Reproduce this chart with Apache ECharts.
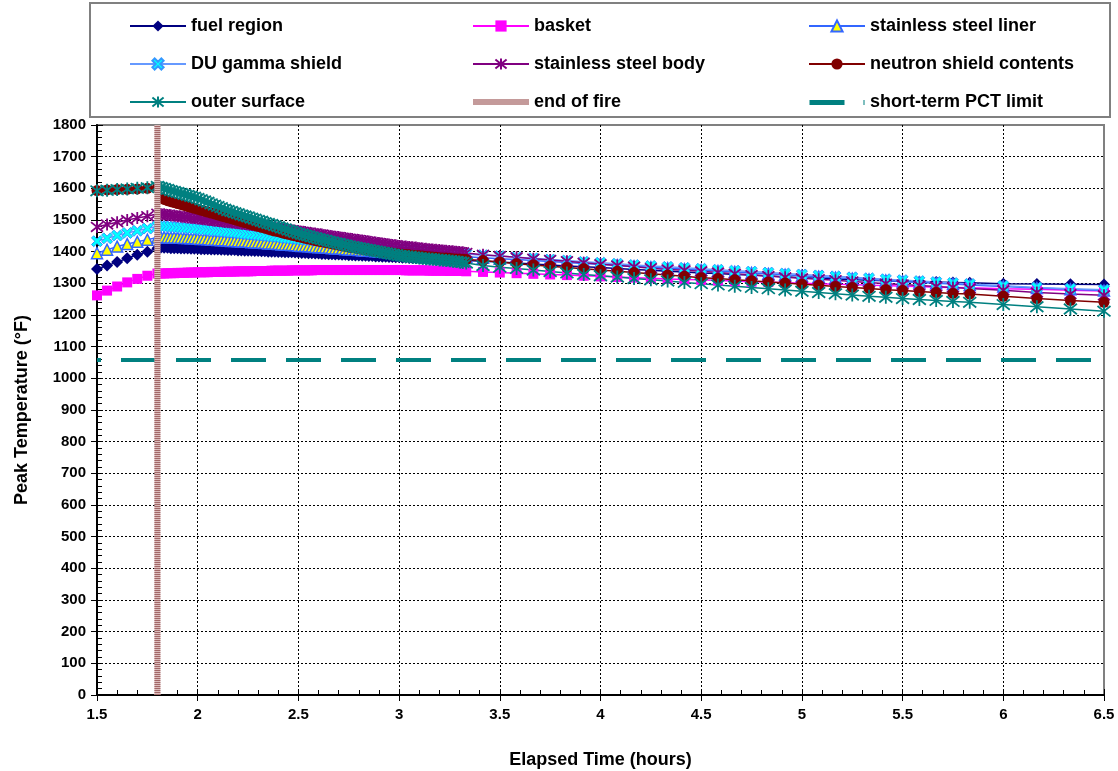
<!DOCTYPE html>
<html><head><meta charset="utf-8">
<script src="https://cdn.jsdelivr.net/npm/echarts@6/dist/echarts.min.js"></script>
<style>html,body{margin:0;padding:0;background:#fff}#c{width:1118px;height:771px}</style>
</head><body><div id="c"></div>
<script>
// elapsed time in minutes
const minutes = [90,93,96,99,102,105,108,
109,110,111,112,113,114,115,116,117,118,119,120,
121,122,123,124,125,126,127,128,129,130,
131,132,133,134,135,136,137,138,139,140,
141,142,143,144,145,146,147,148,149,150,
151,152,153,154,155,156,157,158,159,160,
161,162,163,164,165,166,167,168,169,170,
171,172,173,174,175,176,177,178,179,180,
181,182,183,184,185,186,187,188,189,190,
191,192,193,194,195,196,197,198,199,200,
205,210,215,220,225,230,235,240,245,250,255,260,265,270,275,280,285,290,295,300,305,310,315,320,325,330,335,340,345,350,
360,370,380,390];

const fuelRegion = [1345,1356,1367,1379,1390,1400,1411,
1412,1412,1412,1411,1411,1411,1410,1410,1410,1409,1409,1409,
1408,1408,1408,1407,1407,1407,1406,1406,1405,1405,
1405,1404,1404,1403,1403,1403,1402,1402,1401,1401,
1400,1400,1400,1399,1399,1398,1398,1398,1397,1397,
1396,1396,1395,1395,1394,1394,1393,1393,1392,1392,
1391,1391,1390,1390,1389,1389,1388,1388,1387,1387,
1386,1386,1385,1385,1384,1384,1383,1383,1382,1382,
1381,1381,1380,1380,1379,1379,1378,1378,1377,1377,
1376,1376,1375,1375,1374,1374,1373,1373,1372,1372,
1370,1367,1364,1361,1358,1355,1352,1350,1347,1344,1341,1338,1336,1333,1331,1328,1326,1323,1321,1318,1316,1314,1312,1310,1308,1306,1305,1304,1303,1302,
1299,1298,1297,1296];

const basket = [1262,1277,1290,1303,1314,1324,1331,
1331,1331,1332,1332,1332,1333,1333,1333,1334,1334,1334,1335,
1335,1335,1335,1336,1336,1336,1336,1337,1337,1337,
1337,1338,1338,1338,1338,1338,1339,1339,1339,1339,
1339,1340,1340,1340,1340,1340,1340,1341,1341,1341,
1341,1341,1341,1341,1342,1342,1342,1342,1342,1342,
1342,1342,1342,1342,1342,1342,1342,1342,1342,1342,
1342,1342,1342,1342,1342,1342,1342,1342,1342,1342,
1342,1341,1341,1341,1341,1341,1341,1341,1340,1340,
1340,1340,1340,1340,1339,1339,1339,1339,1339,1338,
1336,1334,1332,1330,1328,1326,1324,1322,1320,1318,1316,1314,1312,1311,1309,1307,1305,1304,1302,1300,1299,1297,1296,1294,1293,1291,1290,1288,1287,1286,
1283,1281,1278,1276];

const steelLiner = [1395,1406,1416,1424,1431,1438,1445,
1446,1446,1445,1445,1445,1444,1444,1443,1443,1442,1442,1441,
1440,1440,1439,1438,1438,1437,1436,1436,1435,1434,
1434,1433,1432,1432,1431,1430,1429,1429,1428,1427,
1426,1426,1425,1424,1423,1422,1422,1421,1420,1419,
1418,1418,1417,1416,1415,1414,1414,1413,1412,1411,
1410,1410,1409,1408,1407,1406,1406,1405,1404,1403,
1403,1402,1401,1400,1400,1399,1398,1397,1397,1396,
1395,1395,1394,1393,1393,1392,1391,1391,1390,1390,
1389,1388,1388,1387,1387,1386,1385,1385,1384,1384,
1381,1378,1375,1372,1369,1366,1363,1360,1357,1354,1351,1348,1345,1342,1339,1336,1333,1330,1327,1324,1321,1318,1315,1312,1309,1306,1303,1300,1298,1295,
1290,1285,1281,1277];

const duGamma = [1433,1442,1451,1459,1466,1473,1480,
1481,1480,1479,1479,1478,1477,1476,1475,1475,1474,1473,1472,
1471,1470,1469,1468,1467,1466,1465,1464,1463,1462,
1461,1460,1459,1457,1456,1455,1454,1453,1452,1451,
1450,1449,1448,1447,1446,1444,1443,1442,1441,1440,
1439,1438,1437,1436,1435,1434,1433,1432,1431,1430,
1429,1428,1427,1426,1425,1424,1423,1422,1421,1420,
1419,1418,1417,1416,1415,1414,1413,1412,1411,1410,
1409,1408,1407,1406,1405,1404,1403,1403,1402,1401,
1400,1399,1398,1398,1397,1396,1395,1394,1394,1393,
1389,1386,1382,1379,1375,1372,1368,1365,1362,1358,1355,1352,1349,1346,1343,1340,1337,1334,1331,1328,1325,1322,1319,1316,1313,1310,1307,1304,1301,1298,
1292,1287,1283,1280];

const steelBody = [1478,1486,1493,1500,1506,1512,1520,
1519,1518,1516,1515,1514,1512,1511,1510,1508,1507,1506,1505,
1504,1502,1501,1500,1498,1497,1496,1494,1493,1492,
1491,1490,1488,1487,1486,1484,1483,1482,1480,1479,
1478,1476,1475,1473,1472,1471,1469,1468,1466,1465,
1463,1462,1460,1458,1457,1455,1454,1452,1450,1449,
1447,1446,1444,1443,1441,1440,1438,1437,1435,1434,
1432,1430,1429,1427,1426,1424,1423,1421,1420,1418,
1417,1416,1415,1414,1413,1411,1410,1409,1408,1407,
1406,1405,1404,1403,1402,1401,1400,1399,1398,1396,
1390,1386,1382,1378,1374,1370,1365,1360,1356,1352,1348,1344,1341,1338,1334,1330,1326,1323,1319,1316,1313,1310,1306,1303,1299,1296,1293,1290,1287,1284,
1278,1271,1266,1262];

const neutronShield = [1593,1595,1596,1597,1598,1600,1602,
1570,1565,1561,1558,1555,1552,1549,1546,1543,1540,1537,1534,
1531,1528,1525,1522,1519,1516,1513,1510,1507,1504,
1501,1498,1495,1492,1489,1486,1483,1480,1477,1474,
1471,1468,1465,1463,1460,1457,1455,1452,1450,1447,
1445,1442,1440,1438,1435,1433,1431,1429,1427,1425,
1423,1421,1419,1417,1415,1413,1412,1410,1408,1407,
1405,1404,1402,1401,1399,1398,1397,1395,1394,1393,
1392,1391,1390,1389,1388,1387,1386,1385,1384,1383,
1382,1381,1380,1380,1379,1378,1377,1377,1376,1375,
1372,1367,1362,1358,1354,1350,1346,1342,1338,1334,1330,1326,1322,1318,1315,1311,1308,1304,1301,1297,1294,1290,1287,1284,1280,1277,1274,1271,1268,1266,
1259,1252,1246,1240];

const outerSurface = [1592,1594,1596,1598,1600,1602,1606,
1603,1600,1597,1593,1590,1587,1584,1581,1578,1575,1572,1568,
1564,1560,1556,1551,1547,1543,1539,1534,1530,1527,
1523,1520,1516,1513,1510,1506,1503,1499,1496,1492,
1489,1486,1482,1479,1475,1472,1468,1465,1461,1458,
1455,1452,1450,1447,1444,1441,1439,1436,1433,1431,
1428,1426,1423,1421,1418,1416,1414,1412,1410,1408,
1406,1404,1402,1400,1398,1396,1394,1392,1390,1388,
1387,1385,1384,1383,1382,1380,1379,1378,1377,1376,
1375,1374,1373,1372,1371,1370,1369,1367,1366,1364,
1356,1351,1347,1342,1337,1333,1328,1324,1320,1315,1311,1307,1303,1299,1295,1291,1287,1283,1279,1275,1271,1267,1263,1259,1256,1252,1249,1246,1243,1240,
1233,1226,1219,1212];

const endOfFireHours = 1.8;
const pctLimitF = 1058;
const xRange = [1.5, 6.5];
const yRange = [0, 1800];

const FONT = '"Liberation Sans", Arial, Helvetica, sans-serif';
const ASTER = 'path://M5,0L5,10M1,1L9,9M1,9L9,1';
const XSQ = 'path://M0,2L2,0L5,3L8,0L10,2L7,5L10,8L8,10L5,7L2,10L0,8L3,5Z';

function pts(arr){ return minutes.map((m,i)=>[m/60, arr[i]]); }
function mk(name, arr, line, symbol, size, fill, border, bw){
  return {
    type:'line', name, data:pts(arr), symbol, symbolSize:size, showAllSymbol:true,
    lineStyle:{color:line, width:1.5},
    itemStyle:{color:fill, borderColor:border||fill, borderWidth:bw||0},
    emphasis:{disabled:true}, animation:false, z:2
  };
}

const series = [
  mk('fuel region', fuelRegion, '#000080', 'diamond', 12, '#000080'),
  mk('basket', basket, '#ff00ff', 'rect', 10, '#ff00ff'),
  mk('stainless steel liner', steelLiner, '#3366ff', 'triangle', 11, '#ffff00', '#3366ff', 1.5),
  mk('DU gamma shield', duGamma, '#6699ff', XSQ, 11, '#00ffff', '#3399ff', 1),
  mk('stainless steel body', steelBody, '#800080', ASTER, 12, '#800080', '#800080', 1.8),
  mk('neutron shield contents', neutronShield, '#800000', 'circle', 11, '#800000'),
  mk('outer surface', outerSurface, '#008080', ASTER, 13, '#008080', '#008080', 1.8),
  {type:'line', name:'end of fire', data:[[endOfFireHours, yRange[0]],[endOfFireHours, yRange[1]]], symbol:'none',
   lineStyle:{color:'#dcbcbc', width:6}, itemStyle:{color:'#c49a9a'}, emphasis:{disabled:true}, animation:false, z:3},
  {type:'line', name:'fireTexture', data:[[endOfFireHours, yRange[0]],[endOfFireHours, yRange[1]]], symbol:'none',
   lineStyle:{color:'#a26868', width:6, type:[1,1]}, emphasis:{disabled:true}, animation:false, z:3},
  {type:'line', name:'short-term PCT limit', data:[[xRange[0], pctLimitF],[xRange[1], pctLimitF]], symbol:'none',
   lineStyle:{color:'#008080', width:4, type:[35,20], dashOffset:31}, itemStyle:{color:'#008080'}, emphasis:{disabled:true}, animation:false, z:2}
];

const legendCommon = {
  orient:'vertical', top:12, itemWidth:56, itemHeight:14, itemGap:20, selectedMode:false,
  textStyle:{fontFamily:FONT, fontWeight:'bold', fontSize:18, color:'#000'}
};
const fireIcon = 'path://M0,0L0.1,0L0.1,0.1Z M0,4L56,4L56,10L0,10Z M0,14L0.1,14L0.1,13.9Z';
const pctIcon = 'path://M0,0L0.1,0L0.1,0.1Z M0,5L35,5L35,10L0,10Z M54,5L55,5L55,10L54,10Z M0,14L0.1,14L0.1,13.9Z';

const axisLabelStyle = {fontFamily:FONT, fontWeight:'bold', fontSize:15, color:'#000'};
const nameStyle = {fontFamily:FONT, fontWeight:'bold', fontSize:18, color:'#000'};
const gridLine = {show:true, showMinLine:false, showMaxLine:false, lineStyle:{color:'#000', width:1, type:[2,2]}};

const option = {
  animation:false,
  backgroundColor:'#fff',
  grid:{left:97, right:14, top:125, bottom:76, show:true, borderColor:'#808080', borderWidth:2, backgroundColor:'transparent',
        containLabel:false, outerBoundsMode:'none'},
  graphic:[{type:'rect', shape:{x:90, y:3, width:1020, height:114}, style:{fill:'none', stroke:'#808080', lineWidth:2}, z:-1}],
  legend:[
    Object.assign({}, legendCommon, {left:124, data:['fuel region','DU gamma shield','outer surface']}),
    Object.assign({}, legendCommon, {left:467, data:['basket','stainless steel body',{name:'end of fire', icon:fireIcon}]}),
    Object.assign({}, legendCommon, {left:803, data:['stainless steel liner','neutron shield contents',{name:'short-term PCT limit', icon:pctIcon}]})
  ],
  xAxis:[
    {type:'value', min:xRange[0], max:xRange[1], interval:0.5, position:'bottom',
     axisLine:{show:true, onZero:false, lineStyle:{color:'#000', width:2}},
     axisTick:{show:true, inside:false, length:6, lineStyle:{color:'#000'}},
     axisLabel:Object.assign({margin:12, formatter:v=>String(v)}, axisLabelStyle),
     splitLine:gridLine,
     name:'Elapsed Time (hours)', nameLocation:'middle', nameGap:56, nameTextStyle:nameStyle},
    {type:'value', min:xRange[0], max:xRange[1], interval:0.5, position:'bottom',
     axisLine:{show:false}, axisTick:{show:true, inside:true, length:6, lineStyle:{color:'#000'}},
     minorTick:{show:true, splitNumber:5, length:5, lineStyle:{color:'#000'}},
     axisLabel:{show:false}, splitLine:{show:false}}
  ],
  yAxis:[
    {type:'value', min:yRange[0], max:yRange[1], interval:100, position:'left',
     axisLine:{show:true, onZero:false, lineStyle:{color:'#000', width:2}},
     axisTick:{show:true, inside:false, length:6, lineStyle:{color:'#000'}},
     axisLabel:Object.assign({margin:11, formatter:v=>String(v)}, axisLabelStyle),
     splitLine:gridLine,
     name:'Peak Temperature (°F)', nameLocation:'middle', nameGap:66, nameTextStyle:nameStyle},
    {type:'value', min:yRange[0], max:yRange[1], interval:100, position:'left',
     axisLine:{show:false}, axisTick:{show:true, inside:true, length:6, lineStyle:{color:'#000'}},
     minorTick:{show:true, splitNumber:5, length:5, lineStyle:{color:'#000'}},
     axisLabel:{show:false}, splitLine:{show:false}}
  ],
  series
};
const chart = echarts.init(document.getElementById('c'));
chart.setOption(option);
</script></body></html>
